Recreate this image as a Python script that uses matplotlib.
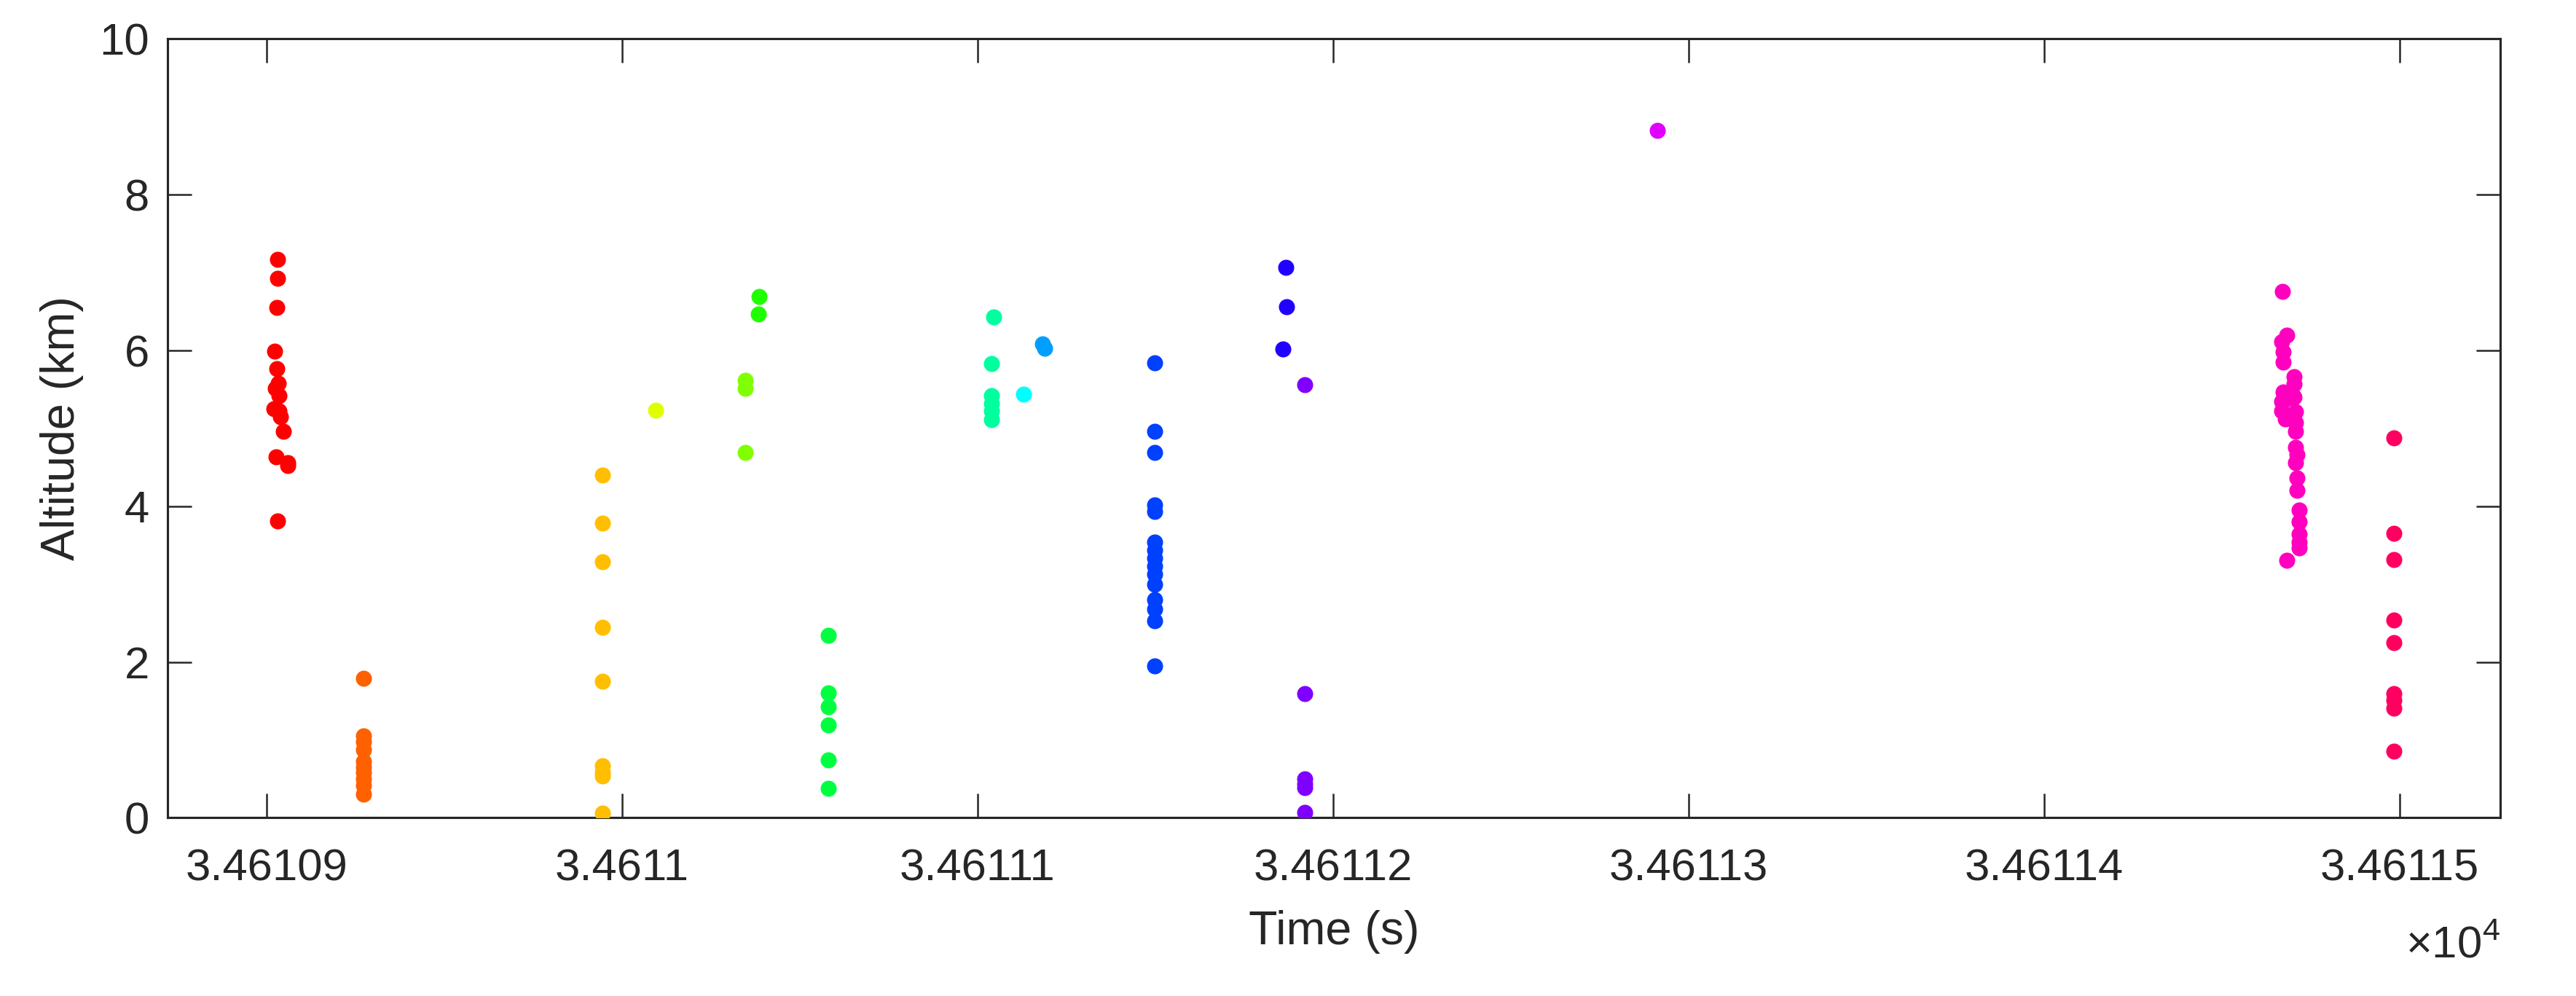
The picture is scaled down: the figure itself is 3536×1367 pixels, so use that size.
import matplotlib
matplotlib.use("Agg")
import numpy as np
from matplotlib import pyplot as plt
from matplotlib.ticker import FuncFormatter, MultipleLocator

plt.rcParams["font.family"] = ["Liberation Sans", "DejaVu Sans"]
plt.rcParams["mathtext.fontset"] = "custom"
plt.rcParams["mathtext.rm"] = "Liberation Sans"

# ################ Data (time in s, altitude in km), one group per colour. ################ #

t_red = [34610.9031, 34610.9031, 34610.9028, 34610.9022, 34610.9029, 34610.9032, 34610.9025, 34610.9034,
         34610.9021, 34610.9035, 34610.9038, 34610.9048, 34610.9027, 34610.9059, 34610.9059, 34610.9031]
z_red = [7.17, 6.93, 6.55, 5.99, 5.77, 5.58, 5.51, 5.42, 5.25, 5.22, 5.15, 4.96, 4.63, 4.56, 4.52, 3.81]

t_orange = [34610.9273] * 10
z_orange = [1.79, 1.05, 0.98, 0.87, 0.72, 0.65, 0.58, 0.50, 0.42, 0.30]

t_gold = [34610.9945] * 9
z_gold = [4.40, 3.78, 3.29, 2.45, 1.75, 0.67, 0.58, 0.54, 0.06]

t_yellow = [34611.0094]
z_yellow = [5.23]

t_chartreuse = [34611.0346, 34611.0346, 34611.0346]
z_chartreuse = [5.62, 5.51, 4.69]

t_green = [34611.0386, 34611.0384]
z_green = [6.69, 6.47]

t_green2 = [34611.0581] * 6
z_green2 = [2.34, 1.60, 1.43, 1.19, 0.74, 0.38]

t_spring = [34611.1045, 34611.1039, 34611.1039, 34611.1039, 34611.1039, 34611.1039]
z_spring = [6.43, 5.83, 5.42, 5.32, 5.22, 5.11]

t_cyan = [34611.1129]
z_cyan = [5.44]

t_azure = [34611.1183, 34611.1188]
z_azure = [6.08, 6.03]

t_blue = [34611.1498] * 15
z_blue = [5.84, 4.96, 4.69, 4.02, 3.93, 3.54, 3.44, 3.33, 3.23, 3.13, 3.00, 2.80, 2.68, 2.53, 1.95]

t_indigo = [34611.1868, 34611.1869, 34611.1858]
z_indigo = [7.07, 6.56, 6.02]

t_violet = [34611.1920] * 6
z_violet = [5.56, 1.59, 0.50, 0.43, 0.39, 0.07]

t_purple = [34611.2912]
z_purple = [8.83]

t_magenta = [34611.4670, 34611.4683, 34611.4669, 34611.4673, 34611.4672, 34611.4703, 34611.4703,
             34611.4673, 34611.4698, 34611.4680, 34611.4669, 34611.4703, 34611.4669, 34611.4708,
             34611.4680, 34611.4708, 34611.4708, 34611.4708, 34611.4712, 34611.4708, 34611.4712,
             34611.4712, 34611.4719, 34611.4719, 34611.4719, 34611.4719, 34611.4719, 34611.4683]
z_magenta = [6.76, 6.20, 6.11, 5.98, 5.85, 5.66, 5.57, 5.47, 5.45, 5.37, 5.35, 5.40, 5.22, 5.21,
             5.12, 5.07, 4.96, 4.76, 4.66, 4.56, 4.36, 4.20, 3.95, 3.80, 3.64, 3.54, 3.47, 3.31]

t_crimson = [34611.4984] * 9
z_crimson = [4.88, 3.65, 3.32, 2.54, 2.25, 1.59, 1.51, 1.41, 0.86]

groups = [(t_red, z_red), (t_orange, z_orange), (t_gold, z_gold), (t_yellow, z_yellow),
          (t_chartreuse, z_chartreuse), (t_green, z_green), (t_green2, z_green2), (t_spring, z_spring),
          (t_cyan, z_cyan), (t_azure, z_azure), (t_blue, z_blue), (t_indigo, z_indigo),
          (t_violet, z_violet), (t_purple, z_purple), (t_magenta, z_magenta), (t_crimson, z_crimson)]
colors = ["#FF0000", "#FF6000", "#FFBF00", "#DFFF00", "#80FF00", "#20FF00", "#00FF40", "#00FF9F",
          "#00FFFF", "#009FFF", "#0040FF", "#2000FF", "#8000FF", "#DF00FF", "#FF00BF", "#FF0060"]

# ################ Plot. ################ #

dark = "#262626"
fig = plt.figure(figsize=(3536 / 300, 1367 / 300), dpi=300)
ax = fig.add_axes([0.065, 0.1789, 0.9055, 0.782])

for (t, z), c in zip(groups, colors):
    ax.scatter(t, z, s=28, color=c, linewidths=0, zorder=3)

ax.set_xlim(34610.8721, 34611.5283)
ax.set_ylim(0, 10)
ax.xaxis.set_major_locator(MultipleLocator(0.1))
ax.yaxis.set_major_locator(MultipleLocator(2))
ax.xaxis.set_major_formatter(FuncFormatter(lambda v, p: "%.6g" % (v / 1e4)))
ax.yaxis.set_major_formatter(FuncFormatter(lambda v, p: "%d" % v))

for s in ax.spines.values():
    s.set_linewidth(0.75)
    s.set_color(dark)
ax.tick_params(direction="in", length=8, width=0.6, color=dark, labelcolor=dark,
               labelsize=14.8, top=True, right=True)
ax.tick_params(axis="x", pad=10)
ax.tick_params(axis="y", pad=6)

ax.set_xlabel("Time (s)", fontsize=15.5, color=dark)
ax.set_ylabel("Altitude (km)", fontsize=15.5, color=dark)
ax.xaxis.set_label_coords(0.5, -0.118)
ax.yaxis.set_label_coords(-0.036, 0.5)
ax.text(1.0, -0.180, r"$\times10^{4}$", transform=ax.transAxes, ha="right", va="baseline",
        fontsize=14.8, color=dark)

fig.savefig("out.png", dpi=300, facecolor="white")
